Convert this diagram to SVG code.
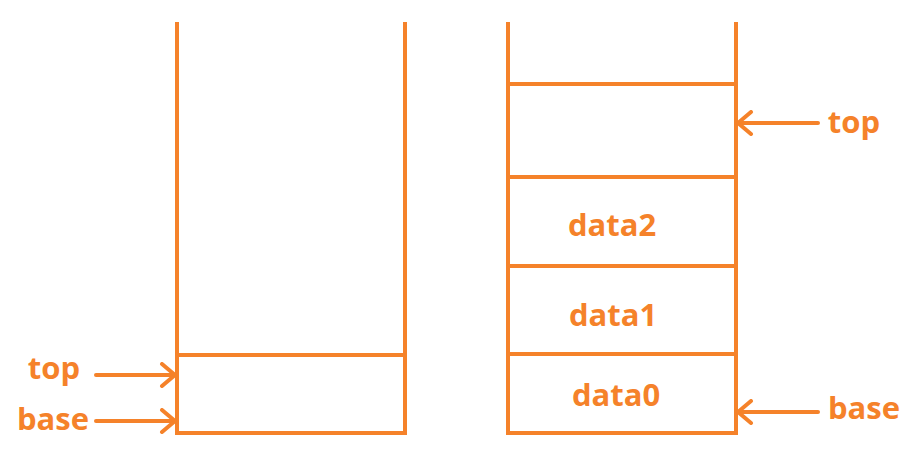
<svg xmlns="http://www.w3.org/2000/svg" width="923" height="460" viewBox="0 0 923 460">
<style>
.s{stroke:#F5822A;stroke-width:4;fill:none;stroke-linecap:square}
.a{stroke:#F5822A;stroke-width:4;fill:none;stroke-linecap:round;stroke-linejoin:round}
.t{font-family:"Open Sans","Noto Sans","Liberation Sans",sans-serif;font-weight:bold;font-size:31px;fill:#F5822A}
</style>
<defs>
<marker id="ah" viewBox="0 0 20 26" refX="16" refY="13" markerWidth="20" markerHeight="26" markerUnits="userSpaceOnUse" orient="auto">
<path d="M3,2 L16,13 L3,24" stroke="#F5822A" stroke-width="4" fill="none" stroke-linecap="round" stroke-linejoin="round"/>
</marker>
</defs>
<g id="stack-empty">
<path class="s" d="M177,24 V433 H405 V24"/>
<line class="s" x1="177" y1="355" x2="405" y2="355"/>
</g>
<g id="stack-full">
<path class="s" d="M508,24 V433 H736 V24"/>
<line class="s" x1="508" y1="84" x2="736" y2="84"/>
<line class="s" x1="508" y1="177" x2="736" y2="177"/>
<line class="s" x1="508" y1="266" x2="736" y2="266"/>
<line class="s" x1="508" y1="354" x2="736" y2="354"/>
<text class="t" x="612" y="236" text-anchor="middle">data2</text>
<text class="t" x="613" y="326" text-anchor="middle">data1</text>
<text class="t" x="616" y="406" text-anchor="middle">data0</text>
</g>
<g id="label-top-left"><text class="t" x="54" y="379" text-anchor="middle">top</text></g>
<g id="label-base-left"><text class="t" x="53" y="430" text-anchor="middle">base</text></g>
<g id="label-top-right"><text class="t" x="854" y="133" text-anchor="middle">top</text></g>
<g id="label-base-right"><text class="t" x="864" y="419" text-anchor="middle">base</text></g>
<g id="connectors">
<line class="a" x1="96" y1="375" x2="175" y2="375" marker-end="url(#ah)"/>
<line class="a" x1="96" y1="421" x2="175" y2="421" marker-end="url(#ah)"/>
<line class="a" x1="818" y1="123" x2="738" y2="123" marker-end="url(#ah)"/>
<line class="a" x1="818" y1="412" x2="738" y2="412" marker-end="url(#ah)"/>
</g>
</svg>
